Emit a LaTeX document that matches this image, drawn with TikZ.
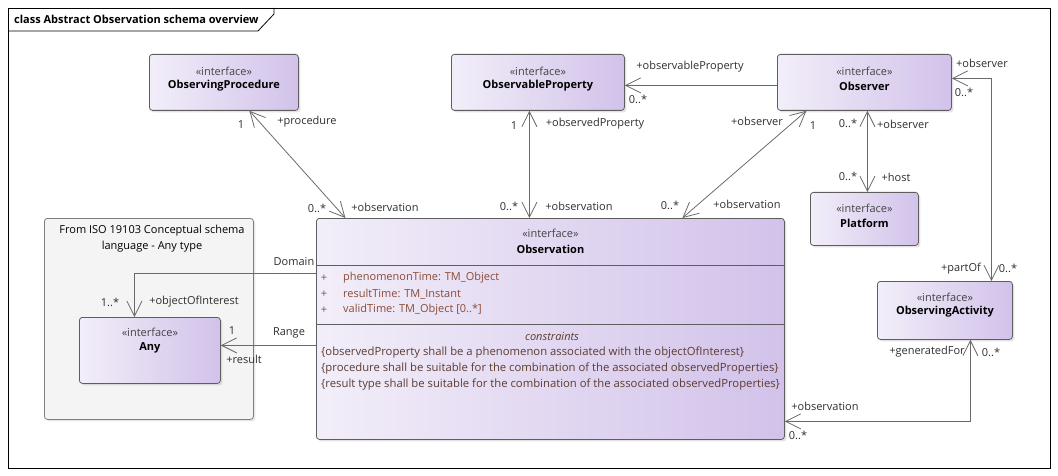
\documentclass[tikz,border=0pt]{standalone}
\usepackage{fontspec}
\setmainfont{Open Sans}
\usetikzlibrary{calc, arrows.meta, positioning, shadows}
\definecolor{UMLBoxLeft}{HTML}{F2EEF9}
\definecolor{UMLBoxRight}{HTML}{D2C2EA}
\definecolor{UMLBorder}{HTML}{5E5E5E}
\definecolor{UMLLine}{HTML}{6A6A6A}
\definecolor{UMLText}{HTML}{2E2E2E}
\definecolor{UMLAttr}{HTML}{8A4B36}
\definecolor{UMLConstr}{HTML}{5C3B30}
\definecolor{UMLPkgFill}{HTML}{F4F4F4}

\begin{document}
\begin{tikzpicture}[
    x=1pt, y=-1pt,
    font=\fontsize{11}{13}\selectfont\color{UMLText},
    >={Straight Barb[length=15pt, width=15pt]},
    % UML Box Styles
    iface/.style={draw=UMLBorder, line width=0.8pt, rounded corners=3pt, left color=UMLBoxLeft, right color=UMLBoxRight,
        drop shadow={opacity=0.22, shadow xshift=2pt, shadow yshift=-2pt}, anchor=north west, inner sep=0pt},
    pkg/.style={draw=UMLBorder!80, line width=0.8pt, rounded corners=3pt, fill=UMLPkgFill,
        drop shadow={opacity=0.18, shadow xshift=2pt, shadow yshift=-2pt}, anchor=north west, inner sep=0pt},
    stereo/.style={inner sep=0pt, text=UMLText!90},
    cname/.style={inner sep=0pt, font=\fontsize{11}{13}\selectfont\bfseries},
    attr/.style={inner sep=0pt, anchor=west, text=UMLAttr},
    constr/.style={inner sep=0pt, anchor=west, text=UMLConstr, font=\fontsize{11.3}{13}\selectfont},
    % Connector Styles
    assoc/.style={draw=UMLLine, line width=0.8pt},
    role/.style={inner sep=0pt}
]

    \useasboundingbox (0,0) rectangle (1058,476);

    % ==========================================
    % FRAME
    % ==========================================
    \draw[black, line width=0.8pt] (8,8) rectangle (1050,468);
    \draw[black, line width=0.8pt] (8,31) -- (258,31) -- (274,14) -- (274,8);
    \node[anchor=west, inner sep=0pt, font=\fontsize{11}{13}\selectfont\bfseries, text=black] (frameTitle) at (14,19) {class Abstract Observation schema overview};

    % ==========================================
    % PACKAGE: ISO 19103
    % ==========================================
    \node[pkg, minimum width=209pt, minimum height=201pt] (pkg) at (44,218) {};
    \node[inner sep=0pt, align=center, font=\fontsize{11}{16}\selectfont] (pkgTitle) at (152,239) {From ISO 19103 Conceptual schema\\language - Any type};

    % ==========================================
    % CLASSES
    % ==========================================
    \node[iface, minimum width=149pt, minimum height=56pt] (proc) at (149,54) {};
    \node[stereo] (procStereo) at ([yshift=-17pt]proc.north) {«interface»};
    \node[cname] (procName) at ([yshift=-32pt]proc.north) {ObservingProcedure};

    \node[iface, minimum width=173pt, minimum height=56pt] (prop) at (451,54) {};
    \node[stereo] (propStereo) at ([yshift=-17pt]prop.north) {«interface»};
    \node[cname] (propName) at ([yshift=-32pt]prop.north) {ObservableProperty};

    \node[iface, minimum width=174pt, minimum height=56pt] (observer) at (777,54) {};
    \node[stereo] (observerStereo) at ([yshift=-17pt]observer.north) {«interface»};
    \node[cname] (observerName) at ([yshift=-32pt]observer.north) {Observer};

    \node[iface, minimum width=108pt, minimum height=53pt] (platform) at (810,192) {};
    \node[stereo] (platformStereo) at ([yshift=-16pt]platform.north) {«interface»};
    \node[cname] (platformName) at ([yshift=-31pt]platform.north) {Platform};

    \node[iface, minimum width=135pt, minimum height=58pt] (activity) at (877,281) {};
    \node[stereo] (activityStereo) at ([yshift=-16pt]activity.north) {«interface»};
    \node[cname] (activityName) at ([yshift=-31pt]activity.north) {ObservingActivity};

    \node[iface, minimum width=141pt, minimum height=66pt] (any) at (79,317) {};
    \node[stereo] (anyStereo) at ([yshift=-15pt]any.north) {«interface»};
    \node[cname] (anyName) at ([yshift=-31pt]any.north) {Any};

    % ==========================================
    % CLASS: Observation (with compartments)
    % ==========================================
    \node[iface, minimum width=468pt, minimum height=221pt] (obs) at (316,218) {};
    \node[stereo] (obsStereo) at ([yshift=-15pt]obs.north) {«interface»};
    \node[cname] (obsName) at ([yshift=-31pt]obs.north) {Observation};
    \draw[UMLBorder, line width=0.8pt] ($(obs.north west)+(0,47)$) -- ($(obs.north east)+(0,47)$);
    \draw[UMLBorder, line width=0.8pt] ($(obs.north west)+(0,106)$) -- ($(obs.north east)+(0,106)$);

    \node[attr, anchor=center] (attrA) at (324,278) {+};
    \node[attr] (attrAName) at (343,278) {phenomenonTime: TM\_Object};
    \node[attr, anchor=center] (attrB) at (324,294) {+};
    \node[attr] (attrBName) at (343,294) {resultTime: TM\_Instant};
    \node[attr, anchor=center] (attrC) at (324,310) {+};
    \node[attr] (attrCName) at (343,310) {validTime: TM\_Object [0..*]};

    \node[constr, anchor=center, font=\fontsize{11}{13}\selectfont\itshape] (constrTitle) at (552,337) {constraints};
    \node[constr] (constrA) at (321,353) {\{observedProperty shall be a phenomenon associated with the objectOfInterest\}};
    \node[constr] (constrB) at (321,369) {\{procedure shall be suitable for the combination of the associated observedProperties\}};
    \node[constr] (constrC) at (321,385) {\{result type shall be suitable for the combination of the associated observedProperties\}};

    % ==========================================
    % ASSOCIATIONS
    % ==========================================
    % procedure
    \draw[assoc, <->] ([xshift=25.5pt]proc.south) -- ([xshift=-205pt]obs.north);
    \node[role] (procMulA) at (241,125) {1};
    \node[role] (procRoleA) at (307,122) {+procedure};
    \node[role] (procMulB) at (317,208) {0..*};
    \node[role] (procRoleB) at (385,207) {+observation};

    % observedProperty
    \draw[assoc, <->] ([xshift=-8.5pt]prop.south) -- ([xshift=-21pt]obs.north);
    \node[role] (propMulA) at (514,126) {1};
    \node[role] (propRoleA) at (595,124) {+observedProperty};
    \node[role] (propMulB) at (509,206) {0..*};
    \node[role] (propRoleB) at (579,206) {+observation};

    % observer
    \draw[assoc, <->] ([xshift=-58pt]observer.south) -- ([xshift=132pt]obs.north);
    \node[role] (obsvRoleA) at (757,121) {+observer};
    \node[role] (obsvMulA) at (813,126) {1};
    \node[role] (obsvMulB) at (670,205) {0..*};
    \node[role] (obsvRoleB) at (747,204) {+observation};

    % observableProperty
    \draw[assoc, ->] ([yshift=-3pt]observer.west) -- ([yshift=-3pt]prop.east);
    \node[role] (opRole) at (690,67) {+observableProperty};
    \node[role] (opMul) at (638,99) {0..*};

    % host
    \draw[assoc, <->] ([xshift=3pt]observer.south) -- ([xshift=3pt]platform.north);
    \node[role] (hostMulA) at (848,123) {0..*};
    \node[role] (hostRoleA) at (903,124) {+observer};
    \node[role] (hostMulB) at (848,176) {0..*};
    \node[role] (hostRoleB) at (896,177) {+host};

    % partOf
    \draw[assoc, <->] ([yshift=4pt]observer.east) -| ([xshift=46.5pt]activity.north);
    \node[role] (partRoleA) at (982,63) {+observer};
    \node[role] (partMulA) at (964,92) {0..*};
    \node[role] (partRoleB) at (961,269) {+partOf};
    \node[role] (partMulB) at (1008,268) {0..*};

    % generatedFor
    \draw[assoc, <->] ([xshift=25.5pt]activity.south) |- ([yshift=-92.5pt]obs.east);
    \node[role] (genRoleA) at (927,352) {+generatedFor};
    \node[role] (genMulA) at (991,352) {0..*};
    \node[role] (genRoleB) at (825,406) {+observation};
    \node[role] (genMulB) at (798,435) {0..*};

    % Domain
    \draw[assoc, ->] ([yshift=55.5pt]obs.west) -| ([xshift=-15.5pt]any.north);
    \node[role, fill=white, inner sep=1.5pt] (domainLbl) at (294,262) {Domain};
    \node[role] (domMul) at (110,302) {1..*};
    \node[role] (domRole) at (194,302) {+objectOfInterest};

    % Range
    \draw[assoc, ->] ([yshift=-16.5pt]obs.west) -- ([yshift=5pt]any.east);
    \node[role] (rangeLbl) at (289,333) {Range};
    \node[role] (rangeMul) at (232,331) {1};
    \node[role] (rangeRole) at (244,359) {+result};

\end{tikzpicture}
\end{document}
